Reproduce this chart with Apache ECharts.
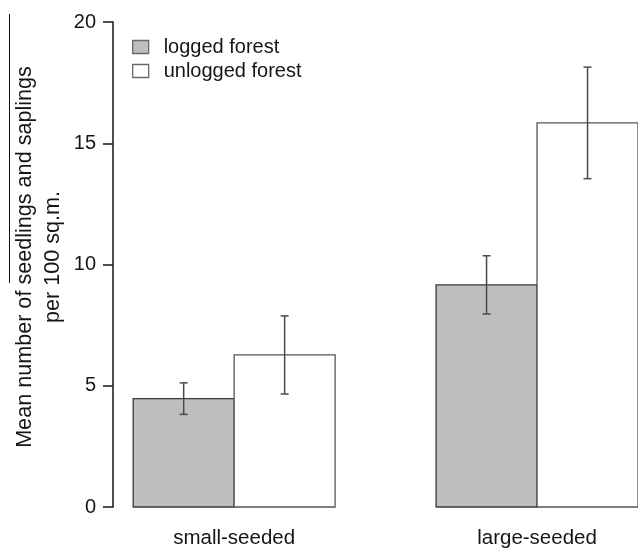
<!DOCTYPE html>
<html>
<head>
<meta charset="utf-8">
<script src="https://cdn.jsdelivr.net/npm/echarts@6/dist/echarts.min.js"></script>
<style>html,body{margin:0;padding:0;background:#fff}#c{width:638px;height:549px}</style>
</head>
<body>
<div id="c"></div>
<script>
var categories = ['small-seeded', 'large-seeded'];
var seriesNames = ['logged forest', 'unlogged forest'];
var loggedMean = [4.47, 9.16];
var loggedErr = [0.65, 1.2];
var unloggedMean = [6.27, 15.84];
var unloggedErr = [1.61, 2.3];
var yMin = 0, yMax = 20, yInterval = 5;
var yTitle = 'Mean number of seedlings and saplings\nper 100 sq.m.';

var FONT = '"Liberation Sans", Arial, sans-serif';
var TXT = '#151515';
var fills = ['#bebebe', '#ffffff'];
var strokes = ['#3a3a3a', '#555555'];

function makeRender(offset, fill, stroke) {
  return function (params, api) {
    var cat = api.value(0), mean = api.value(1), err = api.value(2);
    var x0 = 1 + 3 * cat + offset, x1 = x0 + 1, xc = x0 + 0.5;
    var pTop = api.coord([x0, mean]);
    var pBot = api.coord([x1, 0]);
    var eTop = api.coord([xc, mean + err]);
    var eBot = api.coord([xc, mean - err]);
    var cap = 4;
    var es = { stroke: '#4a4a4a', lineWidth: 1.5 };
    return {
      type: 'group',
      children: [
        { type: 'rect', shape: { x: pTop[0], y: pTop[1], width: pBot[0] - pTop[0], height: pBot[1] - pTop[1] },
          style: { fill: fill, stroke: stroke, lineWidth: 1.3 } },
        { type: 'line', shape: { x1: eTop[0], y1: eTop[1], x2: eBot[0], y2: eBot[1] }, style: es },
        { type: 'line', shape: { x1: eTop[0] - cap, y1: eTop[1], x2: eTop[0] + cap, y2: eTop[1] }, style: es },
        { type: 'line', shape: { x1: eBot[0] - cap, y1: eBot[1], x2: eBot[0] + cap, y2: eBot[1] }, style: es }
      ]
    };
  };
}

function toData(means, errs) {
  return means.map(function (m, i) { return [i, m, errs[i]]; });
}

var chart = echarts.init(document.getElementById('c'), null, { renderer: 'canvas' });
chart.setOption({
  animation: false,
  backgroundColor: '#fff',
  textStyle: { fontFamily: FONT },
  grid: { left: 113, top: 22, bottom: 42, right: -4, containLabel: false },
  legend: {
    orient: 'vertical', left: 132, top: 37, padding: 0,
    itemWidth: 16, itemHeight: 13, itemGap: 4,
    selectedMode: false,
    icon: 'rect',
    textStyle: { fontSize: 20, color: TXT, fontFamily: FONT, padding: [0, 0, 0, 10] },
    data: [
      { name: seriesNames[0], itemStyle: { color: fills[0], borderColor: '#6a6a6a', borderWidth: 1.3 } },
      { name: seriesNames[1], itemStyle: { color: fills[1], borderColor: '#6a6a6a', borderWidth: 1.3 } }
    ]
  },
  xAxis: {
    type: 'value', min: 0.8, max: 6,
    axisLine: { show: false }, axisTick: { show: false }, splitLine: { show: false },
    axisLabel: {
      customValues: [2, 5],
      margin: 21,
      fontSize: 20.5, color: TXT, fontFamily: FONT,
      formatter: function (v) { return categories[Math.round((v - 2) / 3)] || ''; }
    }
  },
  yAxis: {
    type: 'value', min: yMin, max: yMax, interval: yInterval,
    axisLine: { show: true, lineStyle: { color: '#222', width: 1.6 } },
    axisTick: { show: true, inside: false, length: 10, lineStyle: { color: '#222', width: 1.6 } },
    splitLine: { show: false },
    axisLabel: { fontSize: 20, color: TXT, margin: 17, fontFamily: FONT }
  },
  graphic: [
    { type: 'text', x: 39, y: 257, rotation: Math.PI / 2,
      style: { text: yTitle, fill: TXT, font: '21.6px ' + FONT, align: 'center', verticalAlign: 'middle', lineHeight: 28 } },
    { type: 'line', shape: { x1: 9.5, y1: 14, x2: 9.5, y2: 283 }, style: { stroke: '#111', lineWidth: 1 } }
  ],
  series: [
    { name: seriesNames[0], type: 'custom', renderItem: makeRender(0, fills[0], strokes[0]),
      itemStyle: { color: fills[0] }, encode: { x: 0, y: 1 }, data: toData(loggedMean, loggedErr) },
    { name: seriesNames[1], type: 'custom', renderItem: makeRender(1, fills[1], strokes[1]),
      itemStyle: { color: fills[1] }, encode: { x: 0, y: 1 }, data: toData(unloggedMean, unloggedErr) }
  ]
});
</script>
</body>
</html>
